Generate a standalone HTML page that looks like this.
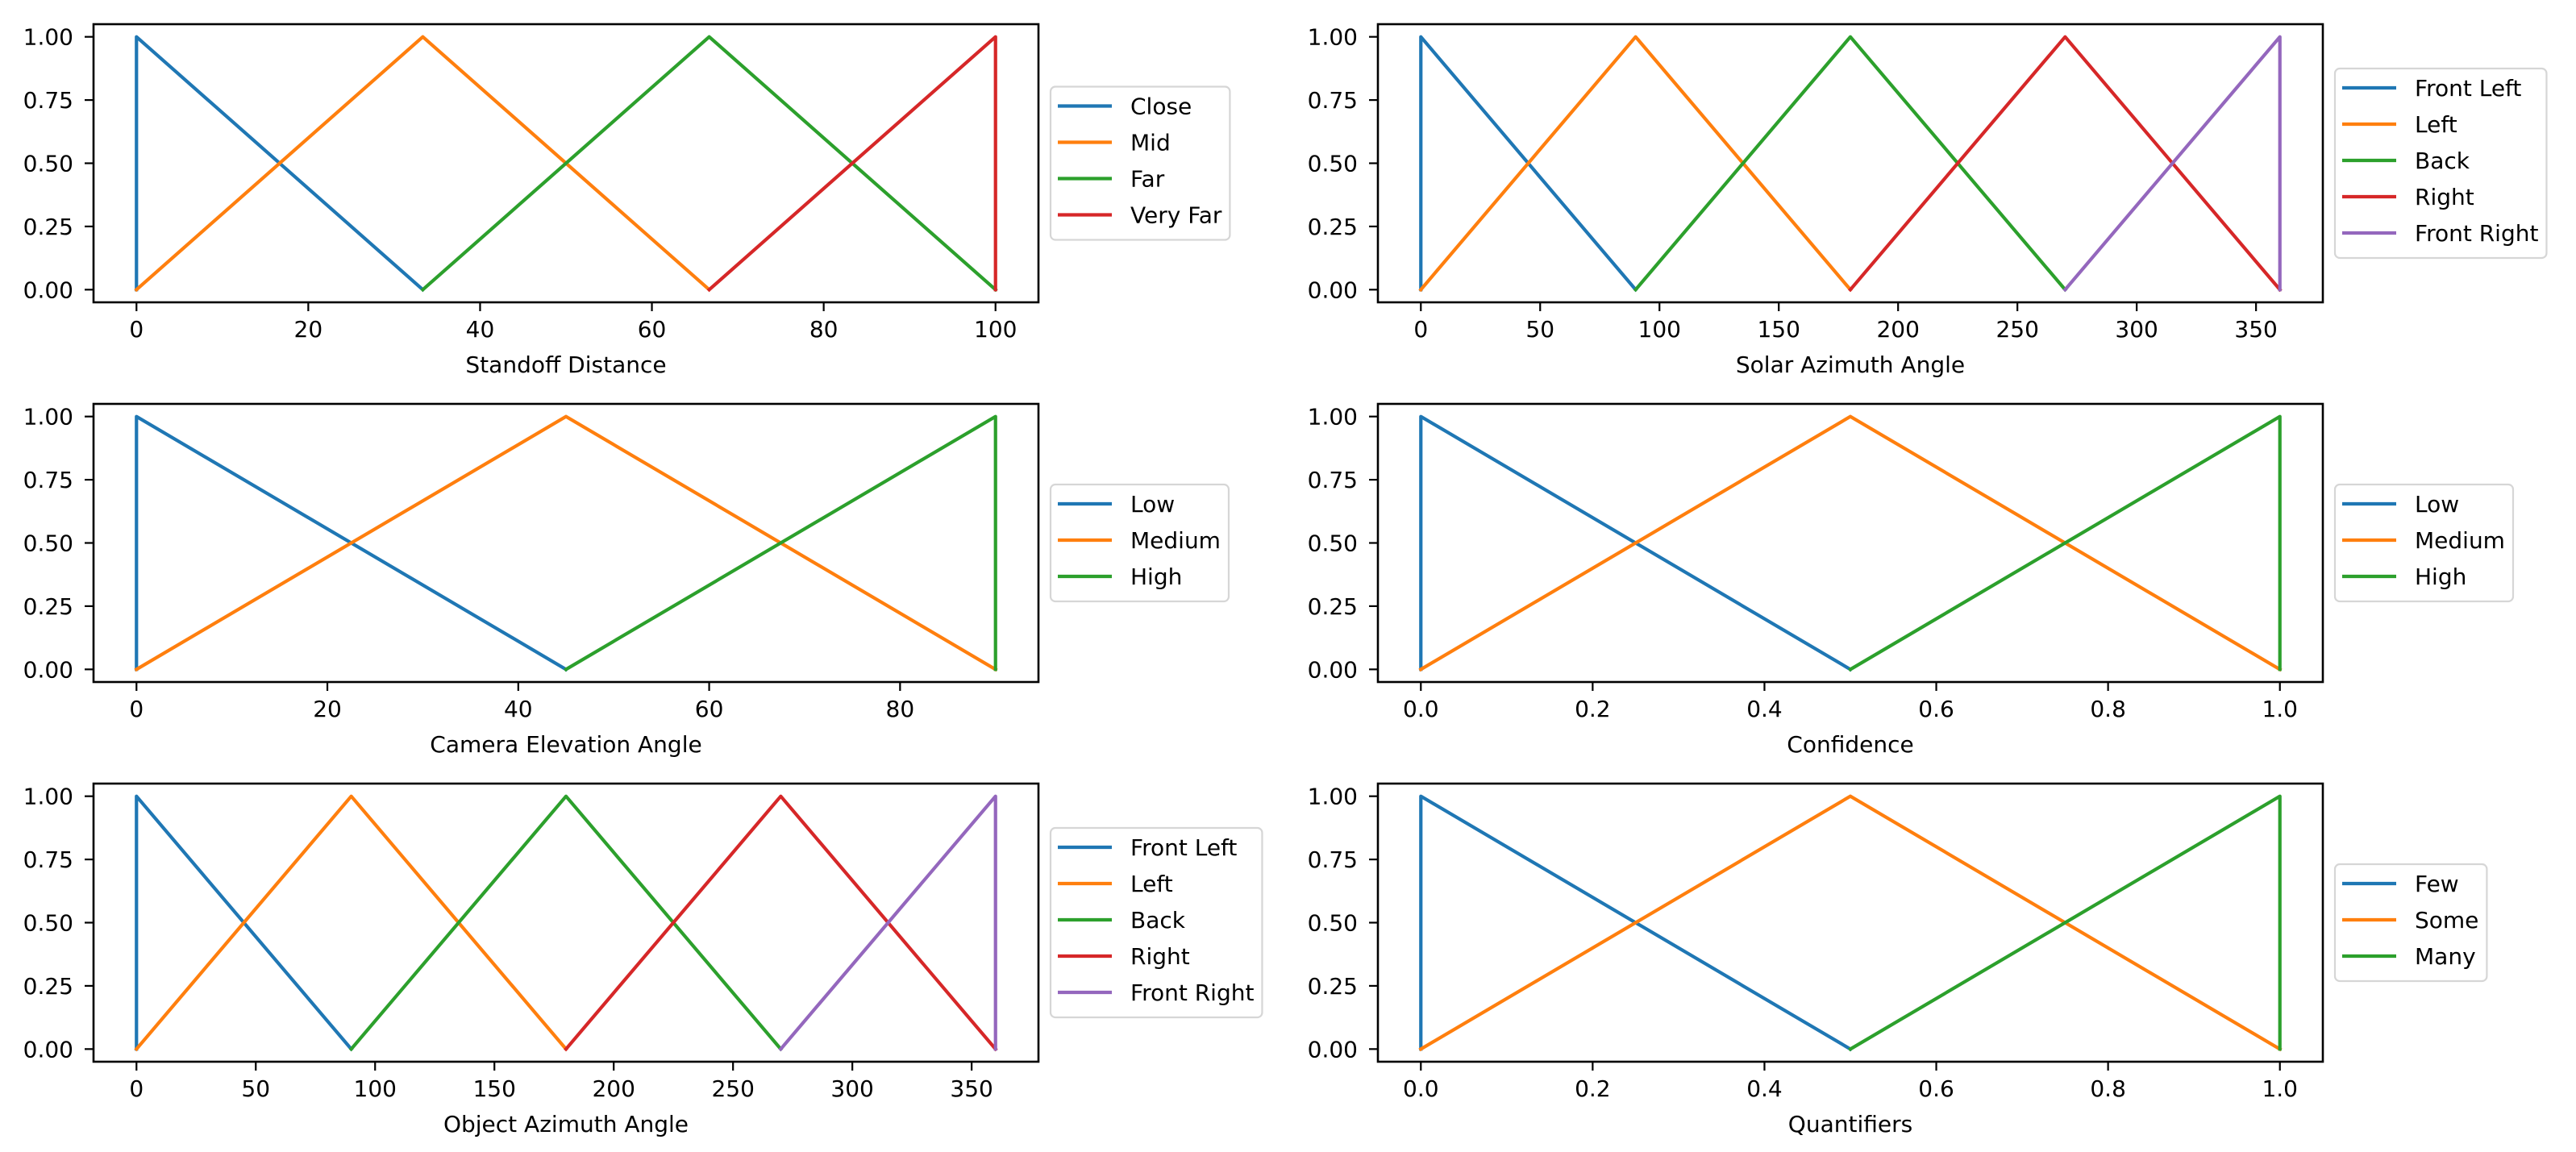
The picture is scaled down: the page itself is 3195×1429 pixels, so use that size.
<!DOCTYPE html>
<html><head><meta charset="utf-8">
<style>
html,body{margin:0;padding:0;background:#fff;}
svg{display:block;}
text{font-family:"DejaVu Sans","Liberation Sans",sans-serif;fill:#000;}
</style></head>
<body>
<svg id="fig" xmlns="http://www.w3.org/2000/svg" width="3195" height="1429" viewBox="0 0 3195 1429"></svg>
<script>
// ---- data ----
const titles = ["Standoff Distance","Solar Azimuth Angle","Camera Elevation Angle","Confidence","Object Azimuth Angle","Quantifiers"];
const xDomains = [[0,100],[0,360],[0,90],[0,1],[0,360],[0,1]];
const xTicks = [[0,20,40,60,80,100],[0,50,100,150,200,250,300,350],[0,20,40,60,80],[0,0.2,0.4,0.6,0.8,1.0],[0,50,100,150,200,250,300,350],[0,0.2,0.4,0.6,0.8,1.0]];
const xTickLabels = [["0","20","40","60","80","100"],["0","50","100","150","200","250","300","350"],["0","20","40","60","80"],["0.0","0.2","0.4","0.6","0.8","1.0"],["0","50","100","150","200","250","300","350"],["0.0","0.2","0.4","0.6","0.8","1.0"]];
const yTicks = [0,0.25,0.5,0.75,1.0];
const yTickLabels = ["0.00","0.25","0.50","0.75","1.00"];
const seriesNames = [["Close","Mid","Far","Very Far"],["Front Left","Left","Back","Right","Front Right"],["Low","Medium","High"],["Low","Medium","High"],["Front Left","Left","Back","Right","Front Right"],["Few","Some","Many"]];
const seriesX = [
 [[0,0,33.33],[0,33.33,66.67],[33.33,66.67,100],[66.67,100,100]],
 [[0,0,90],[0,90,180],[90,180,270],[180,270,360],[270,360,360]],
 [[0,0,45],[0,45,90],[45,90,90]],
 [[0,0,0.5],[0,0.5,1],[0.5,1,1]],
 [[0,0,90],[0,90,180],[90,180,270],[180,270,360],[270,360,360]],
 [[0,0,0.5],[0,0.5,1],[0.5,1,1]]
];
const seriesY = [0,1,0];
const colors = ["#1f77b4","#ff7f0e","#2ca02c","#d62728","#9467bd"];

// ---- layout ----
const NS="http://www.w3.org/2000/svg";
const svg=document.getElementById('fig');
const colLeft=[116,1709], axW=1172, rowTop=[30,501,972], axH=345;
function mk(tag,attrs,parent){const e=document.createElementNS(NS,tag);for(const k in attrs)e.setAttribute(k,attrs[k]);(parent||svg).appendChild(e);return e;}

titles.forEach((title,i)=>{
  const L=colLeft[i%2], T=rowTop[Math.floor(i/2)], B=T+axH, R=L+axW;
  const [d0,d1]=xDomains[i];
  const pad=(d1-d0)*0.05;
  const sx=v=>L+(v-(d0-pad))/((d1-d0)*1.1)*axW;
  const sy=v=>B-(v+0.05)/1.1*axH;
  const g=mk('g',{});
  
  
  // series
  seriesX[i].forEach((xs,s)=>{
    const pts=xs.map((x,k)=>sx(x).toFixed(2)+','+sy(seriesY[k]).toFixed(2)).join(' ');
    const pl=mk('polyline',{points:pts,fill:'none',stroke:colors[s],'stroke-width':4.2,'stroke-linejoin':'round','stroke-linecap':'square'},g);
    
    
  });
  // frame
  const fr=mk('rect',{x:L,y:T,width:axW,height:axH,fill:'none',stroke:'#000','stroke-width':2.6},g);
  
  
  // y ticks
  yTicks.forEach((v,k)=>{
    const y=sy(v);
    mk('line',{x1:L-11,x2:L,y1:y,y2:y,stroke:'#000','stroke-width':2.2},g);
    const t=mk('text',{x:L-25,y:y+10,'font-size':28,'text-anchor':'end'},g);
    t.textContent=yTickLabels[k];
    
    
  });
  // x ticks
  xTicks[i].forEach((v,k)=>{
    const x=sx(v);
    mk('line',{x1:x,x2:x,y1:B,y2:B+11,stroke:'#000','stroke-width':2.2},g);
    const t=mk('text',{x:x,y:B+43,'font-size':28,'text-anchor':'middle'},g);
    t.textContent=xTickLabels[i][k];
    
    
  });
  const xt=mk('text',{x:L+axW/2,y:B+87,'font-size':28,'text-anchor':'middle'},g);
  xt.textContent=title;
  
  
  // legend
  const n=seriesNames[i].length;
  const lh=24+45*(n-1)+31;
  const ly=T+axH/2-lh/2, lx=R+15;
  const lg=mk('g',{},g);
  
  
  const box=mk('rect',{x:lx,y:ly,height:lh,width:200,rx:6,fill:'#fff','fill-opacity':0.8,stroke:'#d6d6d6','stroke-width':2.2},lg);
  let maxW=0;
  seriesNames[i].forEach((nm,s)=>{
    const cy=ly+24+45*s;
    const ln=mk('line',{x1:lx+9,x2:lx+76,y1:cy,y2:cy,stroke:colors[s],'stroke-width':4.2},lg);
    
    
    const t=mk('text',{x:lx+99,y:cy+10,'font-size':28},lg);
    t.textContent=nm;
    
    
    maxW=Math.max(maxW,t.getComputedTextLength());
  });
  box.setAttribute('width',99+maxW+10);
});
</script>
</body></html>
